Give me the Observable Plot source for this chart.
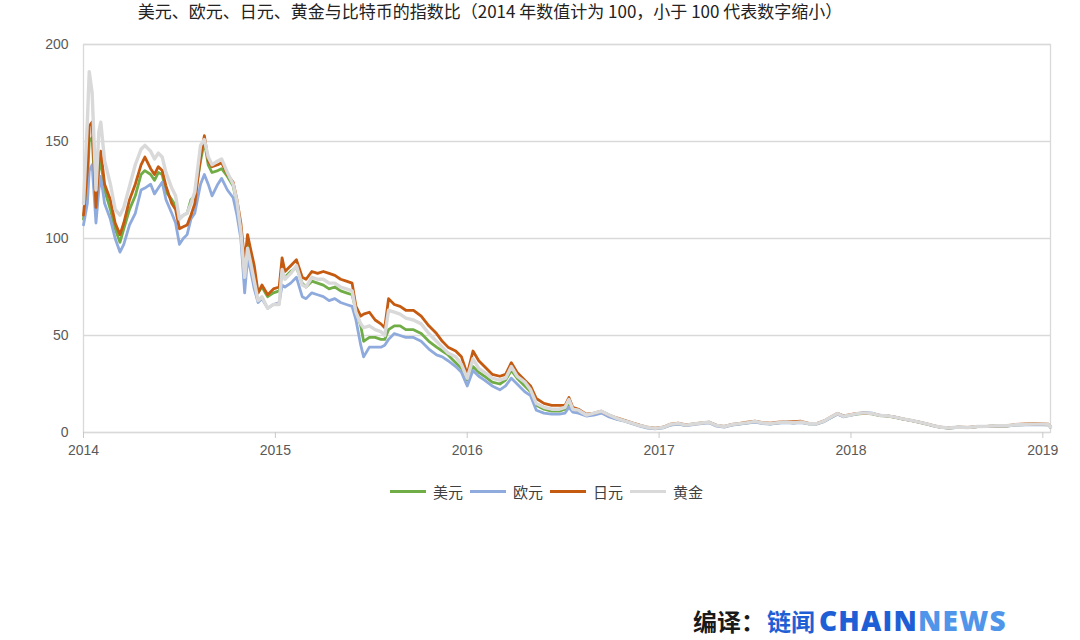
<!DOCTYPE html>
<html>
<head>
<meta charset="utf-8">
<script src="https://cdn.jsdelivr.net/npm/d3@7"></script>
<script src="https://cdn.jsdelivr.net/npm/@observablehq/plot@0.6"></script>
<style>
  html, body { margin: 0; padding: 0; background: #fff; width: 1080px; height: 640px; overflow: hidden; position: relative; }
  #title { position: absolute; left: 0; width: 980px; top: 1px; text-align: center; font-family: "Noto Sans CJK SC", sans-serif; font-size: 17px; color: #222; line-height: 20px; white-space: nowrap; }
  #chart { position: absolute; left: 0; top: 24px; }
  #legend { position: absolute; top: 481px; left: 390px; font-family: "Noto Sans CJK SC", sans-serif; font-size: 15px; color: #404040; display: flex; align-items: center; white-space: nowrap; }
  #legend .sw { display: inline-block; width: 36px; height: 3px; margin-right: 7px; }
  #legend .it { display: flex; align-items: center; margin-right: 7px; }
  #logo { position: absolute; left: 693px; top: 604px; font-family: "Noto Sans CJK SC", sans-serif; font-weight: 700; font-size: 24px; white-space: nowrap; line-height: 32px; }
  #logo .a { color: #1a1a1a; }
  #logo .b { color: #1f5fd6; margin-left: 2px; margin-right: 4px; }
  #logo .c { color: #1f5fd6; font-family: "Open Sans", "Liberation Sans", sans-serif; font-weight: 800; font-size: 28px; letter-spacing: 1.2px; }
  #logo .d { color: #4f95ea; font-family: "Open Sans", "Liberation Sans", sans-serif; font-weight: 800; font-size: 28px; letter-spacing: 1.2px; }
</style>
</head>
<body>
<div id="title">美元、欧元、日元、黄金与比特币的指数比（2014 年数值计为 100，小于 100 代表数字缩小）</div>
<div id="chart"></div>
<div id="legend"></div>
<div id="logo"><span class="a">编译：</span><span class="b">链闻</span><span class="c">CHAIN</span><span class="d">NEWS</span></div>
<script>
// decimal year of each observation
const years = [
2014.00,2014.02,2014.03,2014.045,2014.065,2014.08,2014.09,2014.11,2014.14,2014.165,
2014.19,2014.21,2014.24,2014.27,2014.30,2014.32,2014.35,2014.37,2014.39,2014.41,
2014.43,2014.46,2014.48,2014.50,2014.52,2014.54,2014.56,2014.58,2014.61,2014.63,
2014.65,2014.67,2014.70,2014.72,2014.75,2014.78,2014.80,2014.82,2014.84,2014.855,
2014.87,2014.89,2014.91,2014.93,2014.96,2014.99,2015.02,2015.035,2015.05,2015.08,
2015.11,2015.14,2015.16,2015.19,2015.22,2015.25,2015.28,2015.31,2015.34,2015.37,
2015.40,2015.42,2015.445,2015.46,2015.49,2015.52,2015.55,2015.57,2015.59,2015.62,
2015.65,2015.68,2015.72,2015.76,2015.80,2015.84,2015.87,2015.90,2015.94,2015.97,
2016.00,2016.03,2016.06,2016.09,2016.13,2016.17,2016.20,2016.23,2016.26,2016.30,
2016.33,2016.36,2016.40,2016.44,2016.48,2016.51,2016.53,2016.55,2016.58,2016.62,
2016.66,2016.70,2016.74,2016.78,2016.82,2016.86,2016.90,2016.94,2016.98,2017.02,
2017.06,2017.10,2017.14,2017.18,2017.22,2017.26,2017.30,2017.34,2017.38,2017.42,
2017.46,2017.50,2017.54,2017.58,2017.62,2017.66,2017.70,2017.74,2017.78,2017.82,
2017.86,2017.90,2017.93,2017.96,2017.99,2018.03,2018.07,2018.11,2018.15,2018.19,
2018.23,2018.27,2018.31,2018.35,2018.39,2018.43,2018.47,2018.51,2018.56,2018.61,
2018.66,2018.71,2018.76,2018.81,2018.86,2018.91,2018.96,2019.00,2019.03,2019.04
];

const usd = [
110,128,150,152,115,135,140,125,115,105,
98,105,115,122,133,135,133,130,134,133,
124,120,117,110,112,113,120,122,140,150,
138,134,135,136,132,127,118,105,78,97,
90,80,72,75,70,72,73,82,80,83,
85,77,75,78,77,76,74,75,73,72,
71,63,55,47,49,49,48,48,53,55,
55,53,53,51,47,44,42,40,36,33,
27,34,31,29,26,25,27,32,28,24,
21,14,12,11,11,12,15,12,11,9,
9.5,10.5,8.5,7,6,4.8,3.5,2.5,2,2.5,
4,4.5,3.7,4.3,4.8,5.2,3.5,3.0,4.0,4.5,
5.0,5.6,4.8,4.5,5.0,5.3,5.0,5.3,4.5,4.4,
5.8,8.0,9.6,8.3,8.8,9.5,9.9,9.6,8.7,8.5,
7.8,6.9,6.2,5.4,4.5,3.4,2.6,2.3,2.7,2.5,
3.0,3.1,3.4,3.3,3.9,4.1,4.2,4.1,4.0,2.8
];

const eur = [
107,118,135,138,108,125,132,118,110,100,
93,97,107,113,125,126,128,123,126,129,
120,113,108,97,100,102,110,113,128,133,
128,122,128,131,125,121,112,100,72,90,
84,74,67,69,64,66,67,76,75,77,
80,70,69,72,71,70,68,69,67,66,
65,58,45,39,44,44,44,45,48,51,
50,49,49,47,43,40,39,37,34,31,
24,32,29,27,24,22,24,28,25,21,
19,11.5,10,9.5,9.5,10,13,10.5,10,8.5,
9,10,8,6.8,5.8,4.5,3.3,2.3,1.9,2.4,
3.8,4.3,3.5,4.1,4.6,5.0,3.3,2.8,3.8,4.3,
4.8,5.3,4.6,4.3,4.8,5.1,4.8,5.1,4.4,4.3,
5.6,7.8,9.4,8.1,8.7,9.6,10.4,10.0,8.9,8.6,
7.9,7.0,6.3,5.5,4.5,3.4,2.6,2.3,2.7,2.5,
3.0,3.1,3.3,3.3,3.8,4.0,4.1,4.0,3.9,2.7
];

const jpy = [
112,135,158,160,116,140,145,128,120,108,
102,108,120,128,138,142,136,133,137,135,
127,118,115,105,106,107,112,118,142,153,
140,137,138,139,133,129,120,108,88,102,
95,86,72,76,71,74,75,90,83,86,
89,80,79,83,82,83,82,81,79,78,
77,65,60,61,62,58,56,54,69,66,
65,63,63,60,55,51,47,44,42,39,
30,42,37,34,30,29,30,36,31,27,
24,17.5,15,14,14,14,18,13,12,9.5,
10,11,9,7.5,6.3,5,3.8,2.7,2.2,2.7,
4.3,4.8,3.9,4.5,5.0,5.4,3.7,3.2,4.2,4.7,
5.3,5.9,5.1,4.8,5.3,5.6,5.6,5.8,4.7,4.6,
6.0,8.3,9.9,8.6,9.1,9.8,10.0,9.7,8.8,8.6,
7.9,7.0,6.3,5.5,4.6,3.5,2.7,2.4,2.8,2.6,
3.1,3.2,3.5,3.4,4.2,4.4,4.5,4.4,4.3,3.0
];

const gold = [
118,160,186,175,125,155,160,140,128,115,
112,116,127,138,146,148,145,141,144,142,
134,126,122,110,112,113,118,124,148,151,
142,138,140,141,134,128,119,104,80,95,
88,78,68,70,64,66,66,84,79,82,
86,76,75,80,79,79,77,77,75,74,
73,62,56,54,55,53,52,50,63,62,
61,59,58,56,51,47,44,41,39,35,
28,38,33,31,28,27,28,34,29,26,
22,15,13,12,12,13,17,12,11.5,9,
10,11,9,7.3,6,4.8,3.6,2.6,2.1,2.6,
4.2,4.7,3.8,4.4,4.9,5.3,3.6,3.1,4.1,4.6,
5.1,5.7,4.9,4.6,5.1,5.4,5.1,5.4,4.6,4.5,
5.9,8.2,9.8,8.4,8.9,9.7,10.1,9.8,8.8,8.6,
7.9,7.0,6.3,5.5,4.6,3.5,2.7,2.4,2.8,2.6,
3.1,3.2,3.5,3.5,4.0,4.2,4.3,4.3,4.2,2.9
];

const seriesNames = ["美元", "欧元", "日元", "黄金"];
const seriesColors = ["#70AD47", "#8FAADC", "#C55A11", "#D9D9D9"];
const yTicks = [0, 50, 100, 150, 200];
const xTicks = [2014, 2015, 2016, 2017, 2018, 2019];

const seriesValues = [usd, eur, jpy, gold];
const rows = [];
seriesValues.forEach((vals, i) => {
  vals.forEach((v, j) => rows.push({series: seriesNames[i], t: years[j], v}));
});

const chart = Plot.plot({
  width: 1080,
  height: 448,
  marginTop: 20,
  marginLeft: 83,
  marginRight: 30,
  marginBottom: 40,
  style: {fontFamily: "'Liberation Sans', Arial, sans-serif", fontSize: "14px", background: "#fff"},
  x: {domain: [2014, 2019.04], ticks: xTicks},
  y: {domain: [0, 200], ticks: yTicks},
  color: {domain: seriesNames, range: seriesColors},
  marks: [
    Plot.gridY(yTicks, {stroke: "#d9d9d9", strokeOpacity: 1, strokeWidth: 1.3}),
    Plot.frame({stroke: "#d9d9d9", strokeWidth: 1.3}),
    Plot.axisY(yTicks, {anchor: "left", tickSize: 0, tickPadding: 15, fill: "#595959", stroke: "none", label: null, fontSize: 14}),
    Plot.axisX(xTicks, {anchor: "bottom", tickSize: 6, tickPadding: 7, stroke: "#c8c8c8", fill: "#595959", tickFormat: d => String(d), label: null, fontSize: 14}),
    ...seriesNames.map((name, i) =>
      Plot.line(rows.filter(r => r.series === name), {
        x: "t", y: "v", stroke: seriesColors[i],
        strokeWidth: name === "黄金" ? 3.4 : 2.8,
        strokeLinejoin: "round"
      })
    )
  ]
});
document.getElementById("chart").appendChild(chart);

const legend = document.getElementById("legend");
seriesNames.forEach((name, i) => {
  const it = document.createElement("span");
  it.className = "it";
  const sw = document.createElement("span");
  sw.className = "sw";
  sw.style.background = seriesColors[i];
  it.appendChild(sw);
  const tx = document.createElement("span");
  tx.textContent = name;
  it.appendChild(tx);
  legend.appendChild(it);
});
</script>
</body>
</html>
